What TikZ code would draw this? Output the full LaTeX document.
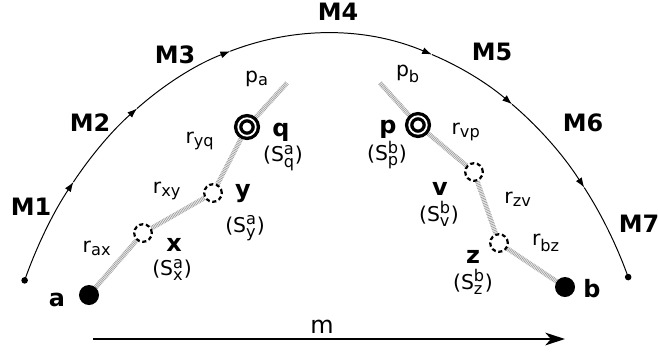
\documentclass[tikz,border=0pt]{standalone}
\usepackage{amsmath}
\usepackage{fontspec}
\setmainfont{DejaVu Sans}
\DeclareMathSizes{14.5}{14.5}{11.5}{9}
\usetikzlibrary{positioning, arrows.meta, backgrounds}

\tikzset{
  site/.style={circle, draw, fill=white, line width=2.35pt, double, double distance=1.3pt,
    minimum size=0.44cm, inner sep=0pt},
  hop/.style={circle, draw, fill=white, dash pattern=on 2.9pt off 1.9pt, line width=1.6pt,
    minimum size=0.44cm, inner sep=0pt},
  endpt/.style={circle, fill, minimum size=0.5cm, inner sep=0pt},
  hopline/.style={draw=gray!75, line width=3.4pt, dash pattern=on 0.55pt off 0.6pt},
  big/.style={font=\fontsize{17}{20}\selectfont\bfseries, inner sep=0pt},
  lbl/.style={font=\fontsize{14.5}{17}\selectfont, inner sep=0pt},
  orbit/.style={line width=0.7pt, -{Latex[length=7pt,width=5pt]}}
}

\begin{document}
\begin{tikzpicture}[x=0.025cm, y=-0.025cm]
\useasboundingbox (0,0) rectangle (658,351);

% path a -> q and p -> b
\node[endpt] (a) at (89,295) {};
\node[hop] (x) at (143,233) {};
\node[hop] (y) at (213,193) {};
\node[site] (q) at (247,127) {};
\coordinate (pa) at (287,83);
\coordinate (pb) at (380,83);
\node[site] (p) at (418,125) {};
\node[hop] (v) at (474,172) {};
\node[hop] (z) at (499,243) {};
\node[endpt] (b) at (565,287) {};

\begin{scope}[on background layer]
\draw[hopline] (a) -- (x) -- (y) -- (q) -- (pa);
\draw[hopline] (pb) -- (p) -- (v) -- (z) -- (b);
\end{scope}

% names of the sites
\node[big] (la) at (57,300) {a};
\node[big] (lb) at (592,289) {b};
\node[big] (lx) at (174,245) {x};
\node[lbl] (sx) at (172,270) {(S$^{\text{a}}_{\text{x}}$)};
\node[big] (ly) at (243,194) {y};
\node[lbl] (sy) at (245,228) {(S$^{\text{a}}_{\text{y}}$)};
\node[big] (lq) at (281,132) {q};
\node[lbl] (sq) at (283,158) {(S$^{\text{a}}_{\text{q}}$)};
\node[big] (lp) at (388,129) {p};
\node[lbl] (sp) at (387,155) {(S$^{\text{b}}_{\text{p}}$)};
\node[big] (lv) at (440,189) {v};
\node[lbl] (sv) at (439,214) {(S$^{\text{b}}_{\text{v}}$)};
\node[big] (lz) at (473,257) {z};
\node[lbl] (sz) at (473,282) {(S$^{\text{b}}_{\text{z}}$)};

% distances
\node[lbl] (rax) at (97,248) {r$_{\text{ax}}$};
\node[lbl] (rxy) at (167,191) {r$_{\text{xy}}$};
\node[lbl] (ryq) at (200,141) {r$_{\text{yq}}$};
\node[lbl] (lpa) at (257,79) {p$_{\text{a}}$};
\node[lbl] (lpb) at (408,74) {p$_{\text{b}}$};
\node[lbl] (rvp) at (466,132) {r$_{\text{vp}}$};
\node[lbl] (rzv) at (518,199) {r$_{\text{zv}}$};
\node[lbl] (rbz) at (546,243) {r$_{\text{bz}}$};

% the moves M1..M7
\coordinate (c) at (327,450);
\foreach \s/\e in {204/220, 220/235, 235/253, 253/288.5, 288.5/304, 304/321}
  \draw[orbit] (c) ++(\s:331 and 417) arc[start angle=\s, end angle=\e, x radius=331, y radius=417];
\draw[line width=0.7pt] (c) ++(321:331 and 417) arc[start angle=321, end angle=335.5, x radius=331, y radius=417];
\path (c) ++(204:331 and 417) coordinate (m-start);
\path (c) ++(335.5:331 and 417) coordinate (m-end);
\fill (m-start) circle[radius=3.3];
\fill (m-end) circle[radius=3.3];

\node[big] (M1) at (31,207) {M1};
\node[big] (M2) at (90,123) {M2};
\node[big] (M3) at (175,55) {M3};
\node[big] (M4) at (338,12) {M4};
\node[big] (M5) at (492,52) {M5};
\node[big] (M6) at (583,123) {M6};
\node[big] (M7) at (639,224) {M7};

% axis m
\coordinate (ax0) at (93,339);
\coordinate (ax1) at (565,339);
\draw[line width=1.4pt, -{Stealth[length=14pt,width=9pt,inset=4pt]}] (ax0) -- (ax1);
\node[font=\fontsize{17}{20}\selectfont, inner sep=0pt] (lm) at (322,327) {m};
\end{tikzpicture}
\end{document}
